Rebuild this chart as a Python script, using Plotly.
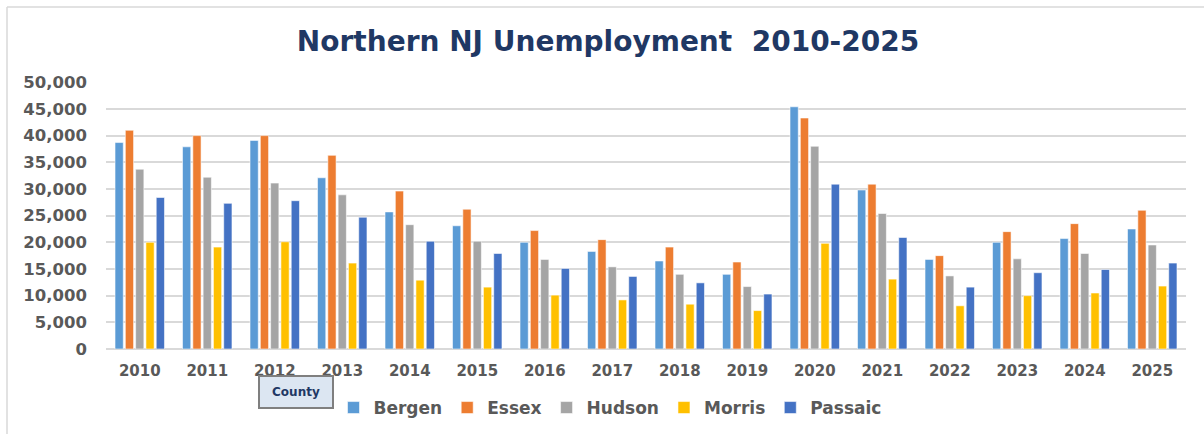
import plotly.graph_objects as go

years = ["2010", "2011", "2012", "2013", "2014", "2015", "2016", "2017",
         "2018", "2019", "2020", "2021", "2022", "2023", "2024", "2025"]

bergen = [38700, 37900, 39100, 32100, 25700, 23100, 20000, 18300,
          16500, 14000, 45400, 29800, 16800, 20000, 20700, 22500]
essex = [41000, 40000, 40000, 36300, 29600, 26200, 22200, 20500,
         19100, 16300, 43300, 30900, 17500, 22000, 23500, 26000]
hudson = [33700, 32200, 31100, 28900, 23300, 20200, 16800, 15400,
          14000, 11700, 38000, 25400, 13700, 16900, 17900, 19500]
morris = [20000, 19100, 20100, 16100, 12900, 11600, 10100, 9200,
          8400, 7200, 19800, 13100, 8100, 10000, 10500, 11800]
passaic = [28400, 27300, 27800, 24700, 20200, 17900, 15100, 13600,
           12400, 10300, 30900, 20900, 11600, 14300, 14900, 16100]

series = [
    ("Bergen", bergen, "#5B9BD5"),
    ("Essex", essex, "#ED7D31"),
    ("Hudson", hudson, "#A5A5A5"),
    ("Morris", morris, "#FFC000"),
    ("Passaic", passaic, "#4472C4"),
]

W, H = 1204, 434
ML, MR, MT, MB = 106, 18, 82, 85
PW, PH = W - ML - MR, H - MT - MB

def px_x(px):
    return (px - ML) / PW

def px_y(py):
    return (H - MB - py) / PH

fig = go.Figure()
for name, vals, col in series:
    fig.add_trace(go.Bar(
        x=years, y=vals, name=name,
        marker=dict(color=col, line=dict(color="rgba(255,255,255,0.7)", width=0.8)),
    ))

font_family = "DejaVu Sans"
gray = "#595959"

fig.update_layout(
    width=W, height=H,
    margin=dict(l=ML, r=MR, t=MT, b=MB, autoexpand=False),
    paper_bgcolor="white", plot_bgcolor="white",
    barmode="group", bargap=0.237, bargroupgap=0.2,
    title=dict(
        text="<b>Northern NJ Unemployment  2010-2025</b>",
        font=dict(family=font_family, size=28, color="#1F3864"),
        x=0.505, xref="container", xanchor="center",
        y=1 - 41 / H, yref="container", yanchor="middle",
    ),
    xaxis=dict(
        type="category",
        tickfont=dict(family=font_family, size=15, color=gray, weight="bold"),
        showgrid=False, showline=False, zeroline=False, ticks="",
        ticklabelstandoff=11,
    ),
    yaxis=dict(
        range=[0, 50050],
        tickvals=list(range(0, 50001, 5000)),
        tickformat=",d",
        tickfont=dict(family=font_family, size=16.5, color=gray, weight="bold"),
        showgrid=True, gridcolor="#D9D9D9", gridwidth=1.5,
        zeroline=True, zerolinecolor="#D9D9D9", zerolinewidth=1.5,
        showline=False, ticks="",
        ticklabelstandoff=18,
    ),
    legend=dict(
        orientation="h",
        x=px_x(610), xanchor="center",
        y=px_y(408), yanchor="middle",
        font=dict(family=font_family, size=17, color=gray, weight="bold"),
        itemwidth=30,
        bgcolor="rgba(0,0,0,0)",
    ),
    showlegend=True,
)

# "County" field button
fig.add_annotation(
    xref="paper", yref="paper",
    x=px_x(296), y=px_y(392), xanchor="center", yanchor="middle",
    text="<b>County</b>", showarrow=False,
    font=dict(family=font_family, size=12, color="#1F3864"),
    bgcolor="#DCE6F2", bordercolor="#7F7F7F", borderwidth=2, borderpad=1,
    width=70, height=28,
)

# chart frame lines (top and left)
fig.add_shape(type="line", xref="paper", yref="paper",
              x0=px_x(7), x1=px_x(7), y0=px_y(H), y1=px_y(7),
              line=dict(color="#D9D9D9", width=1.5))
fig.add_shape(type="line", xref="paper", yref="paper",
              x0=px_x(7), x1=px_x(W), y0=px_y(7), y1=px_y(7),
              line=dict(color="#D9D9D9", width=1.5))

fig.write_html(
    "out.html",
    config={"displayModeBar": False},
    post_script="document.body.style.margin='0';document.body.style.overflow='hidden';",
)
